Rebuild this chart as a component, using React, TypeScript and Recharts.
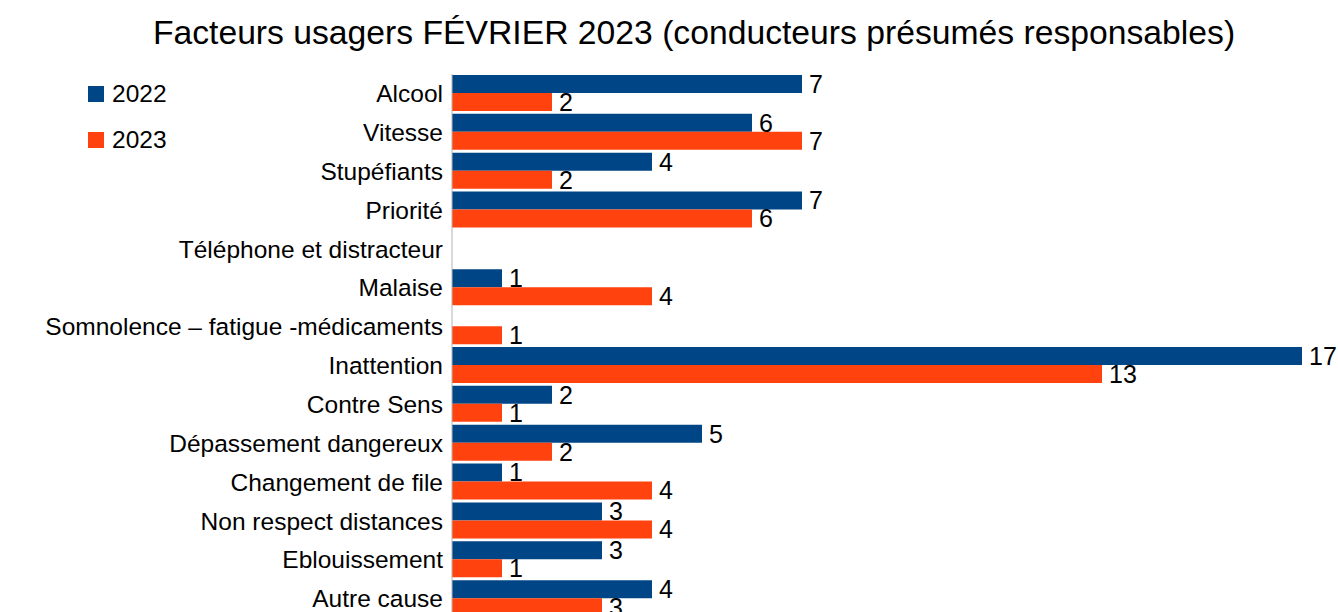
import React from 'react';
import { BarChart, Bar, XAxis, YAxis, Legend, LabelList } from 'recharts';

const categories = [
    'Alcool',
    'Vitesse',
    'Stupéfiants',
    'Priorité',
    'Téléphone et distracteur',
    'Malaise',
    'Somnolence – fatigue -médicaments',
    'Inattention',
    'Contre Sens',
    'Dépassement dangereux',
    'Changement de file',
    'Non respect distances',
    'Eblouissement',
    'Autre cause',
];

const values2022: (number | null)[] = [7, 6, 4, 7, null, 1, null, 17, 2, 5, 1, 3, 3, 4];
const values2023: (number | null)[] = [2, 7, 2, 6, null, 4, 1, 13, 1, 2, 4, 4, 1, 3];

const seriesNames = ['2022', '2023'];
const seriesColors = ['#004586', '#ff420e'];

const data = categories.map((name, i) => ({
    name,
    y2022: values2022[i],
    y2023: values2023[i],
}));

const FONT = '"Liberation Sans", Arial, sans-serif';

const LegendBox = () => (
    <div style={{ fontFamily: FONT }}>
        {seriesNames.map((s, i) => (
            <div key={s} style={{ display: 'flex', alignItems: 'center', height: 24, marginBottom: i === 0 ? 22 : 0 }}>
                <span style={{ width: 16, height: 16, background: seriesColors[i], display: 'inline-block', marginRight: 8 }} />
                <span style={{ fontSize: 24.5, color: '#000', lineHeight: '24px' }}>{s}</span>
            </div>
        ))}
    </div>
);

const fmt = (v: any) => (v == null ? '' : v);

export default function App() {
    return (
        <div style={{ position: 'absolute', left: 0, top: 0, width: 1338, height: 612, overflow: 'hidden', background: '#fff' }}>
            <div
                style={{
                    position: 'absolute',
                    left: 0,
                    top: 16,
                    width: 1388,
                    textAlign: 'center',
                    fontFamily: FONT,
                    fontSize: 33.7,
                    lineHeight: '33px',
                    color: '#000',
                }}
            >
                Facteurs usagers FÉVRIER 2023 (conducteurs présumés responsables)
            </div>
            <BarChart
                width={1352}
                height={640}
                data={data}
                layout="vertical"
                margin={{ top: 74, right: 0, left: 0, bottom: 22 }}
                barGap={0}
                barSize={18}
                style={{ fontFamily: FONT }}
            >
                <XAxis
                    type="number"
                    orientation="top"
                    domain={[0, 18]}
                    height={0}
                    tick={false}
                    tickLine={false}
                    axisLine={{ stroke: '#d9d9d9', strokeWidth: 2 }}
                />
                <YAxis
                    type="category"
                    dataKey="name"
                    width={452}
                    interval={0}
                    tickLine={false}
                    tickSize={0}
                    tickMargin={9}
                    axisLine={{ stroke: '#b3b3b3' }}
                    tick={{ fontSize: 24.5, fill: '#000', fontFamily: FONT }}
                />
                <Legend
                    layout="vertical"
                    verticalAlign="middle"
                    align="center"
                    content={<LegendBox />}
                    wrapperStyle={{ left: 88, top: 82, width: 'auto' }}
                />
                <Bar dataKey="y2022" name="2022" fill={seriesColors[0]} isAnimationActive={false}>
                    <LabelList dataKey="y2022" position="right" offset={7} formatter={fmt} style={{ fontSize: 25, fill: '#000', fontFamily: FONT }} />
                </Bar>
                <Bar dataKey="y2023" name="2023" fill={seriesColors[1]} isAnimationActive={false}>
                    <LabelList dataKey="y2023" position="right" offset={7} formatter={fmt} style={{ fontSize: 25, fill: '#000', fontFamily: FONT }} />
                </Bar>
            </BarChart>
        </div>
    );
}
